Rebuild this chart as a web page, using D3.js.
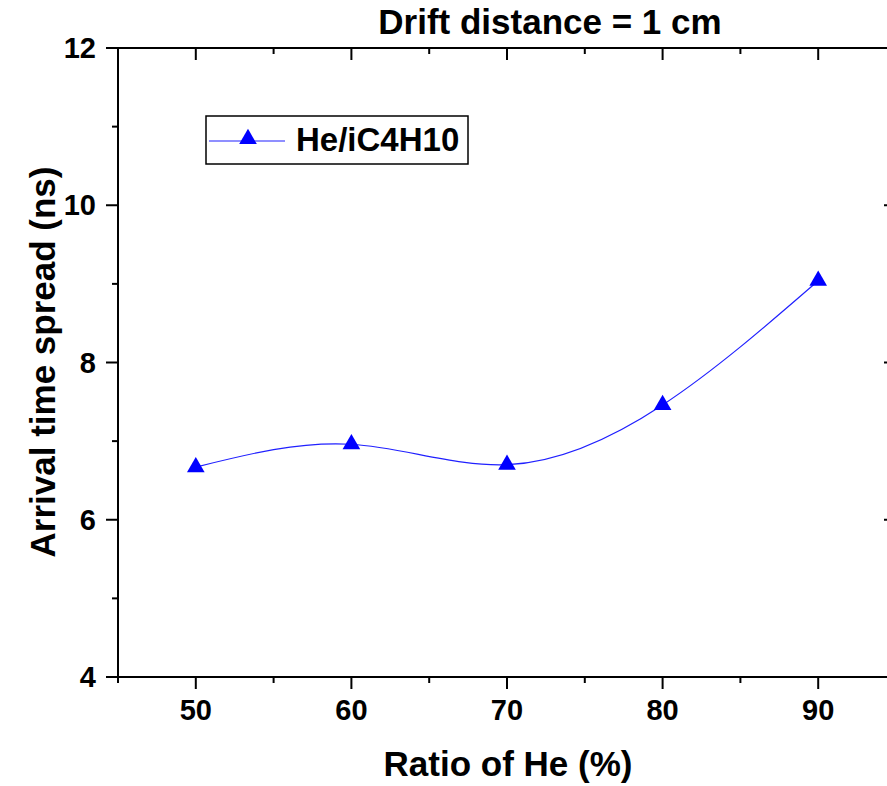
<!DOCTYPE html>
<html lang="en">
<head>
<meta charset="utf-8">
<title>Arrival time spread vs Ratio of He</title>
<script src="https://cdn.jsdelivr.net/npm/d3@7"></script>
<style>
    body { margin: 0; background: #fff; }
    text { font-family: "Liberation Sans", Arial, sans-serif; font-weight: bold; fill: #000; }
</style>
</head>
<body>
<div id="chart"></div>
<script>
    // data
    const heRatio = [50, 60, 70, 80, 90];
    const spread = [6.67, 6.96, 6.70, 7.46, 9.04];
    const xTicks = [50, 60, 70, 80, 90];
    const yTicks = [4, 6, 8, 10, 12];
    const seriesName = "He/iC4H10";

    const width = 887, height = 786;
    const plotLeft = 118, plotRight = 896, plotTop = 48, plotBottom = 677;

    const svg = d3.select("#chart").append("svg")
        .attr("width", width)
        .attr("height", height);

    const x = d3.scaleLinear().domain([45, 95]).range([plotLeft, plotRight]);
    const y = d3.scaleLinear().domain([4, 12]).range([plotBottom, plotTop]);

    const xMinor = d3.range(45, 96, 10);
    const yMinor = d3.range(5, 12, 2);

    // frame
    svg.append("rect")
        .attr("x", plotLeft).attr("y", plotTop)
        .attr("width", plotRight - plotLeft).attr("height", plotBottom - plotTop)
        .attr("fill", "none").attr("stroke", "#000").attr("stroke-width", 2);

    const tickG = svg.append("g").attr("stroke", "#000").attr("stroke-width", 2);

    // bottom ticks (outward), top ticks (inward)
    xTicks.forEach(v => {
        tickG.append("line").attr("x1", x(v)).attr("x2", x(v)).attr("y1", plotBottom).attr("y2", plotBottom + 12);
        tickG.append("line").attr("x1", x(v)).attr("x2", x(v)).attr("y1", plotTop).attr("y2", plotTop + 12);
    });
    xMinor.forEach(v => {
        tickG.append("line").attr("x1", x(v)).attr("x2", x(v)).attr("y1", plotBottom).attr("y2", plotBottom + 6);
        tickG.append("line").attr("x1", x(v)).attr("x2", x(v)).attr("y1", plotTop).attr("y2", plotTop + 6);
    });
    // left ticks (outward), right ticks (inward)
    yTicks.forEach(v => {
        tickG.append("line").attr("x1", plotLeft - 12).attr("x2", plotLeft).attr("y1", y(v)).attr("y2", y(v));
        tickG.append("line").attr("x1", plotRight - 12).attr("x2", plotRight).attr("y1", y(v)).attr("y2", y(v));
    });
    yMinor.forEach(v => {
        tickG.append("line").attr("x1", plotLeft - 6).attr("x2", plotLeft).attr("y1", y(v)).attr("y2", y(v));
        tickG.append("line").attr("x1", plotRight - 6).attr("x2", plotRight).attr("y1", y(v)).attr("y2", y(v));
    });

    // tick labels
    svg.selectAll(".xl").data(xTicks).enter().append("text")
        .attr("x", d => x(d)).attr("y", 720)
        .attr("text-anchor", "middle").attr("font-size", 29)
        .text(d => d);
    svg.selectAll(".yl").data(yTicks).enter().append("text")
        .attr("x", 96).attr("y", d => y(d) + 10)
        .attr("text-anchor", "end").attr("font-size", 29)
        .text(d => d);

    // titles
    svg.append("text").attr("x", 550).attr("y", 34)
        .attr("text-anchor", "middle").attr("font-size", 35)
        .text("Drift distance = 1 cm");
    svg.append("text").attr("x", 508).attr("y", 776)
        .attr("text-anchor", "middle").attr("font-size", 35)
        .text("Ratio of He (%)");
    svg.append("text")
        .attr("transform", "translate(55,362) rotate(-90)")
        .attr("text-anchor", "middle").attr("font-size", 35)
        .text("Arrival time spread (ns)");

    // series
    const pts = heRatio.map((h, i) => [h, spread[i]]);
    const line = d3.line().x(d => x(d[0])).y(d => y(d[1])).curve(d3.curveNatural);
    svg.append("path").datum(pts)
        .attr("d", line)
        .attr("fill", "none").attr("stroke", "#2020ff").attr("stroke-width", 1.2);

    const tri = d3.symbol().type(d3.symbolTriangle).size(135);
    svg.selectAll(".pt").data(pts).enter().append("path")
        .attr("d", tri)
        .attr("transform", d => `translate(${x(d[0])},${y(d[1])})`)
        .attr("fill", "#0000ff");

    // legend
    const lg = svg.append("g");
    lg.append("rect").attr("x", 206).attr("y", 116).attr("width", 262).attr("height", 48)
        .attr("fill", "#fff").attr("stroke", "#000").attr("stroke-width", 1.5);
    lg.append("line").attr("x1", 209).attr("x2", 285).attr("y1", 141).attr("y2", 141)
        .attr("stroke", "#2020ff").attr("stroke-width", 1.2);
    lg.append("path").attr("d", tri).attr("transform", "translate(248,139)").attr("fill", "#0000ff");
    lg.append("text").attr("x", 296).attr("y", 151).attr("font-size", 33).text(seriesName);
</script>
</body>
</html>
